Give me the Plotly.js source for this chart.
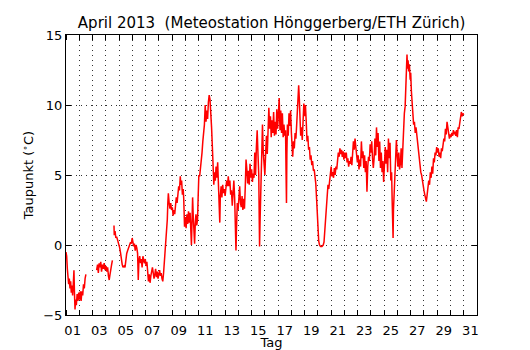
<!DOCTYPE html>
<html>
<head>
<meta charset="utf-8">
<script src="https://cdn.plot.ly/plotly-3.0.1.min.js"></script>
<style>html,body{margin:0;padding:0;background:#fff}#chart{width:530px;height:350px}</style>
</head>
<body>
<div id="chart"></div>
<script>
// time in days since 1 April 2013 00:00 (null = gap in data)
const tage = [
0.00,0.05,0.10,0.15,0.20,0.25,0.30,0.35,0.40,0.45,0.50,0.55,0.60,0.64,0.68,0.72,0.78,0.84,0.90,0.96,
1.02,1.08,1.14,1.20,1.26,1.32,1.38,1.44,1.50,1.90,
2.31,2.38,2.44,2.50,2.56,2.62,2.68,2.75,2.82,2.88,2.95,3.02,3.08,3.14,3.20,3.26,3.32,3.38,3.44,3.50,3.56,
3.62,3.64,3.70,3.76,3.82,3.90,3.98,4.05,4.12,4.18,4.24,4.30,4.38,4.45,4.52,4.58,4.65,4.72,4.80,4.87,4.93,4.99,
5.05,5.10,5.16,5.22,5.28,5.34,5.40,5.45,5.50,5.56,5.62,5.68,5.74,5.80,5.86,5.92,5.98,
6.04,6.10,6.16,6.22,6.28,6.34,6.40,6.46,6.52,6.58,6.64,6.70,6.76,6.82,6.88,6.94,
7.00,7.06,7.12,7.18,7.24,7.30,7.36,7.42,7.48,7.54,7.60,7.64,7.68,7.72,7.78,7.84,7.90,7.96,
8.02,8.08,8.14,8.20,8.26,8.32,8.38,8.44,8.50,8.56,8.62,8.66,8.72,8.78,8.84,8.88,8.94,
9.00,9.06,9.12,9.18,9.24,9.30,9.36,9.42,9.46,9.50,9.55,9.60,9.66,9.70,9.75,9.80,9.86,9.92,9.97,
10.02,10.08,10.14,10.20,10.26,10.32,10.38,10.44,10.50,10.56,10.62,10.68,10.74,10.80,10.86,10.92,10.98,
11.04,11.10,11.15,11.20,11.26,11.32,11.38,11.44,11.50,11.56,11.60,11.64,11.70,11.76,11.82,11.88,11.94,
12.00,12.06,12.12,12.18,12.24,12.30,12.36,12.42,12.48,12.54,12.60,12.66,12.72,12.78,12.82,12.86,12.92,12.98,
13.04,13.10,13.16,13.22,13.28,13.34,13.40,13.46,13.52,13.58,13.64,13.70,13.76,13.82,13.88,13.94,
14.00,14.06,14.12,14.18,14.24,14.30,14.36,14.42,14.48,14.54,14.58,14.60,14.64,14.70,14.76,14.82,14.88,14.94,
15.00,15.06,15.12,15.18,15.24,15.30,15.36,15.42,15.48,15.54,15.60,15.66,15.72,15.78,15.84,15.90,15.96,
16.02,16.08,16.14,16.20,16.26,16.32,16.38,16.44,16.50,16.56,16.60,16.63,16.66,16.70,16.76,16.82,16.88,16.94,
17.00,17.05,17.10,17.16,17.22,17.28,17.34,17.40,17.46,17.52,17.55,17.60,17.65,17.70,17.76,17.82,17.88,17.94,
18.00,18.06,18.12,18.18,18.24,18.30,18.36,18.42,18.48,18.54,18.60,18.66,18.72,18.78,18.84,18.90,18.95,
19.00,19.06,19.12,19.20,19.30,19.40,19.46,19.52,19.58,19.64,19.70,19.76,19.82,19.88,19.94,
20.00,20.06,20.12,20.18,20.24,20.30,20.36,20.42,20.48,20.54,20.60,20.66,20.72,20.78,20.84,20.90,20.96,
21.02,21.08,21.14,21.20,21.26,21.32,21.38,21.44,21.50,21.56,21.62,21.68,21.74,21.80,21.86,21.92,21.98,
22.04,22.10,22.16,22.22,22.28,22.34,22.40,22.46,22.52,22.58,22.64,22.70,22.76,22.82,22.88,22.94,
23.00,23.06,23.12,23.18,23.24,23.30,23.36,23.42,23.48,23.54,23.60,23.66,23.72,23.78,23.84,23.90,23.96,
24.02,24.08,24.14,24.20,24.26,24.32,24.38,24.44,24.50,24.56,24.60,24.64,24.67,24.70,24.74,24.80,24.86,24.92,24.98,
25.04,25.10,25.16,25.22,25.28,25.34,25.40,25.46,25.52,25.58,25.64,25.68,25.72,25.76,25.80,25.85,25.90,25.96,
26.00,26.05,26.10,26.16,26.22,26.28,26.34,26.40,26.46,26.52,26.58,26.64,26.70,26.76,26.82,26.88,26.94,
27.00,27.06,27.12,27.18,27.24,27.30,27.36,27.42,27.48,27.54,27.60,27.66,27.72,27.78,27.84,27.90,27.96,
28.02,28.08,28.14,28.20,28.26,28.32,28.38,28.44,28.50,28.56,28.62,28.68,28.74,28.80,28.86,28.92,28.98,
29.04,29.10,29.16,29.22,29.28,29.34,29.40,29.46,29.52,29.58,29.64,29.70,29.76,29.82,29.88,29.94,30.00
];
// dew point in °C
const taupunkt = [
-0.5,-0.8,-1.7,-2.1,-2.8,-2.4,-3.1,-2.6,-3.4,-2.9,-3.6,-2.8,-1.8,-3.5,-4.6,-3.9,-4.3,-3.5,-4.0,-3.4,
-3.9,-3.3,-4.0,-3.3,-3.6,-2.8,-3.1,-2.4,-2.1,null,
-1.8,-1.4,-2.0,-1.3,-1.6,-1.2,-1.9,-1.4,-1.7,-1.3,-1.8,-1.5,-1.9,-1.6,-2.2,-2.5,-2.1,-1.6,-1.4,-1.1,null,
1.4,0.7,1.0,0.5,0.6,0.3,0.2,-0.2,-0.6,-1.1,-1.4,-1.6,-1.5,-1.6,-1.0,-0.6,-0.4,-0.2,-0.1,0.2,0.1,0.5,
0.2,-0.1,0.1,-0.4,0.0,-0.2,-0.6,-2.5,-1.1,-0.8,-1.3,-1.0,-1.6,-0.8,-1.1,-1.3,-1.0,
-1.5,-1.2,-2.0,-2.6,-2.1,-2.7,-2.2,-1.9,-1.6,-2.0,-2.4,-2.1,-1.7,-2.3,-1.9,-2.4,
-2.1,-1.8,-2.2,-2.0,-2.4,-2.6,-2.0,-1.1,-0.5,0.1,0.9,1.8,3.0,3.7,3.0,2.6,3.0,2.5,
2.7,2.1,2.5,2.2,2.8,3.4,3.0,3.8,4.2,3.9,4.9,4.3,4.6,3.6,4.0,3.3,1.3,
2.0,1.2,2.2,1.5,2.4,1.6,2.3,0.6,0.0,1.5,3.4,2.0,0.8,0.1,1.5,2.2,1.4,1.8,3.5,
5.0,4.9,5.5,5.6,6.6,7.4,7.9,8.6,10.0,8.8,9.6,9.0,10.2,10.7,10.4,9.6,8.4,
7.0,5.6,4.3,5.2,4.6,5.6,4.8,5.9,4.4,3.8,1.6,3.5,4.2,3.4,4.3,3.7,4.0,
3.5,4.1,4.6,4.2,4.9,4.2,4.6,3.6,3.9,2.8,3.5,4.6,3.4,1.8,-0.4,1.2,3.0,2.5,
3.4,4.2,3.0,2.7,3.5,2.5,3.3,2.6,4.1,6.1,5.4,4.4,5.3,4.3,5.8,4.8,
5.4,4.5,5.1,4.8,6.6,5.0,7.0,8.2,6.5,5.0,1.5,-0.1,1.8,5.0,7.0,8.6,6.6,6.0,
5.0,6.6,7.8,6.5,8.2,9.8,8.3,9.2,7.7,8.9,8.0,9.5,7.8,8.8,7.9,9.7,8.3,
9.9,10.5,8.2,9.6,8.0,9.4,7.7,8.6,7.8,8.2,5.0,3.0,6.5,8.6,7.8,9.4,8.5,9.6,
8.0,7.3,6.3,7.4,6.9,8.0,7.6,8.6,9.5,10.2,11.4,10.4,9.0,7.8,8.4,7.5,8.8,10.1,
9.2,10.0,8.8,7.4,7.8,6.8,7.0,6.1,6.4,5.7,6.0,5.3,5.4,4.9,4.4,3.3,2.2,
1.1,0.3,0.0,-0.1,-0.1,0.0,0.2,1.0,2.2,3.2,3.8,4.3,4.0,4.7,5.0,
5.6,4.9,5.2,4.8,5.5,5.0,5.6,5.4,6.1,6.6,6.3,6.9,6.5,6.8,6.3,6.7,6.1,
6.6,6.2,6.6,5.9,6.2,5.6,6.0,5.8,6.3,5.7,7.1,7.4,6.8,7.6,7.0,6.2,5.9,
6.4,5.4,6.1,5.6,7.4,6.2,6.7,5.5,6.4,5.2,6.0,3.8,5.6,6.3,6.0,7.2,
6.6,7.4,6.2,5.5,6.2,7.6,6.4,8.4,7.0,8.0,6.0,7.4,5.5,6.6,5.2,6.0,4.5,
5.5,7.0,5.8,6.8,5.2,7.6,6.2,7.3,4.6,5.2,3.2,1.5,0.5,2.5,3.6,5.5,6.0,7.5,6.4,
5.6,6.6,5.4,5.8,6.9,5.5,7.0,8.2,9.4,9.9,11.3,12.8,13.6,12.6,13.2,12.4,12.9,11.8,
12.3,11.0,10.4,9.4,8.6,8.8,8.0,8.4,7.8,7.3,6.8,6.0,5.8,5.2,5.0,4.5,4.3,
3.9,3.6,3.3,3.1,3.6,4.2,4.6,4.3,5.2,4.8,5.6,5.1,6.2,5.9,6.6,6.4,7.0,
6.6,6.9,6.3,6.6,6.2,6.9,6.7,7.2,7.6,7.4,8.3,7.9,8.8,8.4,8.0,7.6,7.9,
7.7,8.0,7.8,8.2,7.9,8.1,7.8,8.2,7.7,8.4,8.3,8.7,9.1,9.5,9.2,9.4,9.3
];
const tagLabels = ["01","03","05","07","09","11","13","15","17","19","21","23","25","27","29","31"];
const yTicks = [-5, 0, 5, 10, 15];

const font = {family: "DejaVu Sans, sans-serif", size: 13, color: "#000"};
const gridStyle = {gridcolor: "#333", gridwidth: 1, griddash: "1px,4px"};

Plotly.newPlot("chart", [{
  x: tage, y: taupunkt, type: "scatter", mode: "lines",
  line: {color: "#ff0000", width: 1.5}, connectgaps: false, hoverinfo: "skip"
}], {
  width: 530, height: 350,
  margin: {l: 66, r: 53, t: 35, b: 35},
  paper_bgcolor: "#fff", plot_bgcolor: "#fff",
  font: font,
  showlegend: false,
  title: {text: "April 2013  (Meteostation Hönggerberg/ETH Zürich)", font: {family: font.family, size: 15, color: "#000"},
          x: 0.5125, xanchor: "center", y: 0.935, yanchor: "middle"},
  xaxis: {
    range: [0, 31], showline: true, linecolor: "#000", linewidth: 1, mirror: "allticks",
    tickmode: "array", tickvals: tagLabels.map(d => Number(d) - 0.5), ticktext: tagLabels,
    ticks: "", showgrid: false, zeroline: false, tickfont: font, ticklabelstandoff: 3,
    minor: Object.assign({tick0: 0, dtick: 1, ticks: "inside", ticklen: 5, tickcolor: "#000", showgrid: true}, gridStyle),
    title: {text: "Tag", font: font, standoff: 1}
  },
  yaxis: {
    range: [-5, 15], showline: true, linecolor: "#000", linewidth: 1, mirror: "allticks",
    tickmode: "array", tickvals: yTicks, ticks: "inside", ticklen: 5, tickcolor: "#000",
    showgrid: true, ...gridStyle, zeroline: false, tickfont: font, ticklabelstandoff: 0,
    title: {text: "Taupunkt (<sup>∘</sup>C)", font: font, standoff: 6}
  }
}, {displayModeBar: false, staticPlot: true});
</script>
</body>
</html>
